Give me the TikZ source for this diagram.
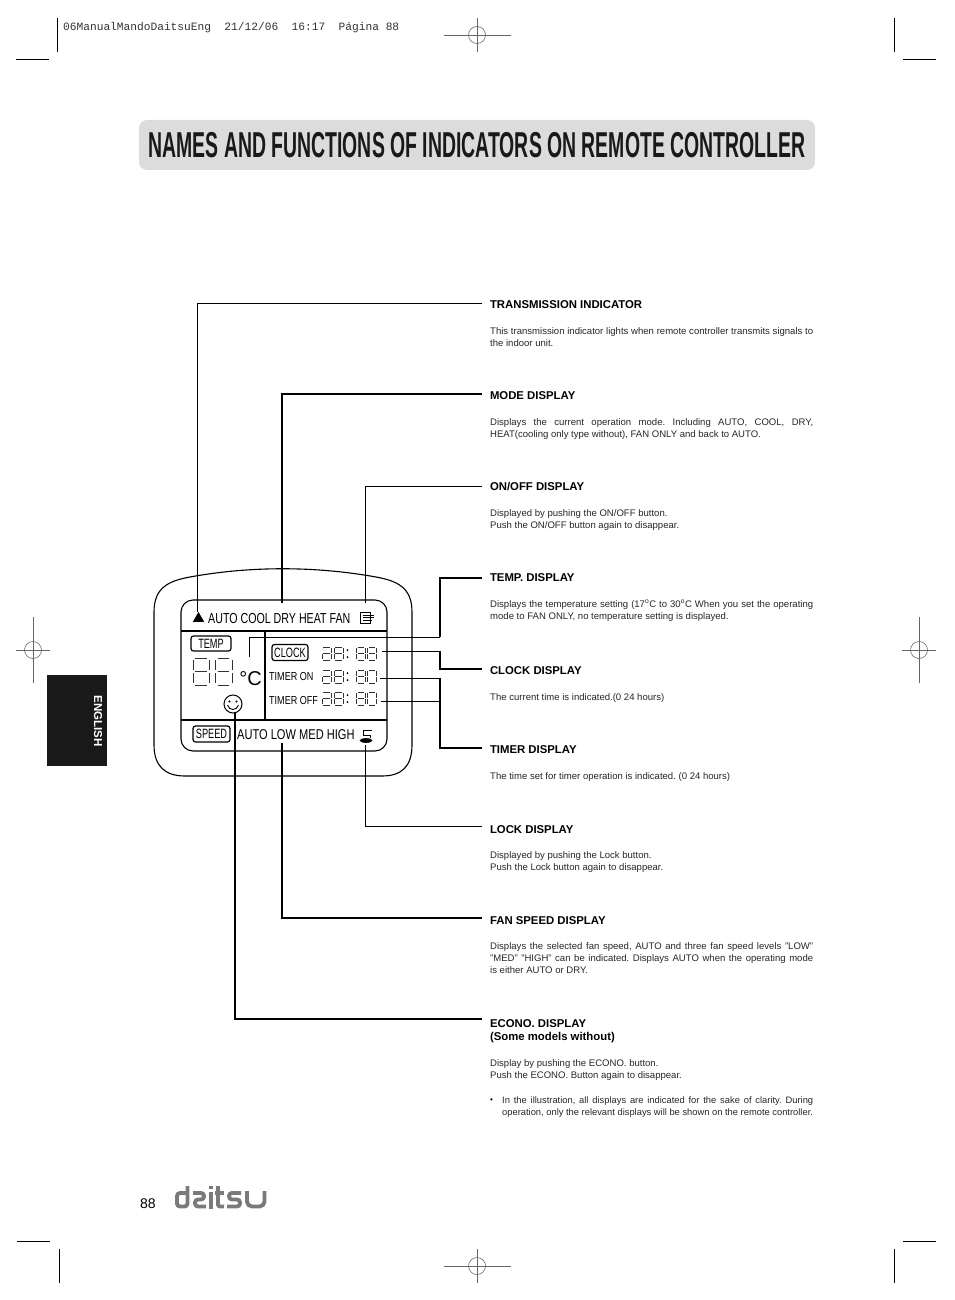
\documentclass[tikz,border=0pt]{standalone}
\usepackage{fontspec}
\usetikzlibrary{positioning,arrows.meta,calc,shapes.geometric}
\setmainfont{Liberation Sans}
\newfontfamily\narrowfont[FakeStretch=0.78]{Liberation Sans}
\newfontfamily\modefont[FakeStretch=0.735]{Liberation Sans}
\newfontfamily\boxfont[FakeStretch=0.68]{Liberation Sans}
\newfontfamily\titlefont[FakeStretch=0.54]{Liberation Sans}
\newfontfamily\markfont{Liberation Mono}
\definecolor{cTitle}{HTML}{DCDCDC}
\definecolor{cLogo}{HTML}{7A7A7A}
\def\eightsegs{.15/0/.85/0,.15/.5/.85/.5,.15/1/.85/1,0/.08/0/.44,1/.08/1/.44,0/.56/0/.92,1/.56/1/.92}
\def\zerosegs{.15/0/.85/0,.15/1/.85/1,0/.08/0/.44,1/.08/1/.44,0/.56/0/.92,1/.56/1/.92}
\def\threesegs{.15/0/.85/0,.15/.5/.85/.5,.15/1/.85/1,1/.08/1/.44,0/.56/0/.92,1/.56/1/.92}
\newcommand{\segdigit}[5]{%
  \begin{scope}[shift={(#1,#2)},xscale=#3,yscale=#4]
    \foreach \xa/\ya/\xb/\yb in #5 {\draw[segline] (\xa,\ya)--(\xb,\yb);}
  \end{scope}}
\begin{document}
\begin{tikzpicture}[x=1pt,y=-1pt,>=Stealth,
  headtxt/.style={anchor=west,inner xsep=0pt,outer xsep=8pt,inner ysep=0pt,text height=8pt,text depth=0pt,font=\fontsize{11.35}{13}\selectfont\bfseries},
  bodytxt/.style={anchor=north west,inner sep=0pt,text width=323pt,align=justify,font=\fontsize{9.55}{12}\selectfont\frenchspacing,text=black!85},
  lcdtxt/.style={inner sep=0pt,font=\fontsize{14.2}{16}\narrowfont},
  lcdsmall/.style={inner sep=0pt,font=\fontsize{11.6}{14}\narrowfont},
  lcdbox/.style={draw,rounded corners=2.5pt,line width=1.2pt,inner sep=0pt,minimum height=15pt,font=\fontsize{13.5}{14}\boxfont},
  thinline/.style={line width=0.8pt},
  thickline/.style={line width=1.9pt},
  midline/.style={line width=1.3pt},
  cropline/.style={line width=1pt},
  regline/.style={line width=0.6pt,black!60},
  segline/.style={line width=0.9pt,black!80},
  logoline/.style={line width=3.9pt,cLogo,rounded corners=3pt,line join=round}]
\useasboundingbox (0,0) rectangle (954,1300);
% crop marks
\foreach \x/\y in {57/18,894/18,59/1249,894/1249}{\draw[cropline] (\x,\y)--(\x,\y+34);}
\foreach \x/\y in {16/60,903/60,17/1241,903/1241}{\draw[cropline] (\x,\y)--(\x+33,\y);}
\foreach \x/\y/\w/\h in {477/35/33.5/17,33/650/17/33,919/650/17/33,477/1266/33.5/17}{
  \draw[regline] (\x,\y) circle (8.5);
  \draw[regline] (\x-\w,\y)--(\x+\w,\y) (\x,\y-\h)--(\x,\y+\h);}
\node[anchor=west,inner sep=0pt,font=\fontsize{11.2}{13}\markfont,text=black!80] (slug) at (63,28) {06ManualMandoDaitsuEng\ \ 21/12/06\ \ 16:17\ \ Página 88};
% title
\fill[cTitle,rounded corners=8pt] (139,120) rectangle (815,170);
\node[font=\fontsize{36}{38}\titlefont\bfseries,inner sep=0pt,text=black!90] (title) at (477,145) {NAMES AND FUNCTIONS OF INDICATORS ON REMOTE CONTROLLER};
% side tab
\fill[black!90] (47,675) rectangle (107,766);
\node[rotate=-90,text=white,inner sep=0pt,font=\fontsize{11.5}{12}\selectfont\bfseries] (tab) at (98,721) {ENGLISH};
% remote controller
\draw[line width=1.1pt] (154,612) .. controls (154,588) and (168,581) .. (190,577)
  .. controls (250,566) and (315,566) .. (376,577)
  .. controls (398,581) and (412,588) .. (412,612)
  -- (412,745) .. controls (412,766) and (402,776) .. (382,776)
  -- (185,776) .. controls (165,776) and (154,766) .. (154,745) -- cycle;
\draw[line width=1.1pt,rounded corners=12pt] (181,600) rectangle (387,751);
\draw[line width=1.1pt] (181,631)--(387,631) (181,720)--(387,720) (265,631)--(265,720);
\node[regular polygon,regular polygon sides=3,fill=black,inner sep=0pt,minimum size=13pt] (tx) at (198.5,618.5) {};
\node[lcdtxt,anchor=west,font=\fontsize{14.5}{16}\modefont] (modes) at (208,618.5) {AUTO COOL DRY HEAT FAN};
\node[draw,line width=1pt,minimum width=10pt,minimum height=11pt,inner sep=0pt] (onoff) at (365.5,617.5) {};
\draw[line width=1pt] (363,615)--(374,615) (363,617.5)--(374,617.5) (363,620)--(372,620);
\node[lcdbox,minimum width=40pt] (tempbox) at (211,643.5) {TEMP};
\segdigit{193}{658}{16}{27}{\eightsegs}
\segdigit{215}{658}{17}{27}{\eightsegs}
\node[inner sep=0pt,font=\fontsize{20}{22}\selectfont] (deg) at (250.5,679) {°C};
\node[circle,draw,line width=1pt,minimum size=18pt,inner sep=0pt] (econo) at (233,704) {};
\fill (229.5,701.5) circle (1.1) (236.5,701.5) circle (1.1);
\draw[line width=0.9pt] (227.5,705) .. controls (229,711) and (237,711) .. (238.5,705);
\node[lcdbox,minimum width=36pt,minimum height=16pt] (clockbox) at (290,652.5) {CLOCK};
\node[lcdsmall,anchor=west] (timeron) at (269,676) {TIMER ON};
\node[lcdsmall,anchor=west] (timeroff) at (269,700.5) {TIMER OFF};
\foreach \y in {647,670,692}{
  \segdigit{322}{\y}{9}{13}{\threesegs}
  \segdigit{334}{\y}{9}{13}{\eightsegs}
  \segdigit{356.5}{\y}{9}{13}{\eightsegs}
  \fill (347.5,\y+3) circle (1) (347.5,\y+10) circle (1);}
\segdigit{367.5}{647}{9}{13}{\eightsegs}
\segdigit{367.5}{670}{9}{13}{\zerosegs}
\segdigit{367.5}{692}{9}{13}{\zerosegs}
\node[lcdbox,minimum width=37pt,minimum height=16pt] (speedbox) at (211.5,734) {SPEED};
\node[lcdtxt,anchor=west] (speeds) at (237,735) {AUTO LOW MED HIGH};
\node[ellipse,draw,fill=black,line width=0.6pt,minimum width=12pt,minimum height=4pt,inner sep=0pt] (lock) at (366,740.5) {};
\draw[line width=0.9pt] (372,730.5)--(363,730.5)--(363,735)--(370,735)--(370,738);
% named points on the display
\coordinate (cTrans) at (197,612);
\coordinate (cMode) at (282,603);
\coordinate (cOnoff) at (365,603);
\coordinate (cTemp) at (249,657);
\coordinate (cClock) at (382,651);
\coordinate (cTimerA) at (380,678);
\coordinate (cTimerB) at (381,701);
\coordinate (cLock) at (365,745);
\coordinate (cFan) at (282,743);
\coordinate (cSmile) at (235,713);
% right column
\node[headtxt] (hTrans) at (482,304) {TRANSMISSION INDICATOR};
\node[bodytxt] (bTrans) at (490,327) {This transmission indicator lights when remote controller transmits signals to\linebreak the indoor unit.};
\node[headtxt] (hMode) at (482,395) {MODE DISPLAY};
\node[bodytxt] (bMode) at (490,418) {Displays the current operation mode. Including AUTO, COOL, DRY,\linebreak HEAT(cooling only type without), FAN ONLY and back to AUTO.};
\node[headtxt] (hOnoff) at (482,486) {ON/OFF DISPLAY};
\node[bodytxt] (bOnoff) at (490,509) {Displayed by pushing the ON/OFF button.\\ Push the ON/OFF button again to disappear.};
\node[headtxt] (hTemp) at (482,577) {TEMP. DISPLAY};
\node[bodytxt] (bTemp) at (490,600) {Displays the temperature setting (17\textsuperscript{o}C to 30\textsuperscript{o}C When you set the operating\linebreak mode to FAN ONLY, no temperature setting is displayed.};
\node[headtxt] (hClock) at (482,670) {CLOCK DISPLAY};
\node[bodytxt] (bClock) at (490,693) {The current time is indicated.(0 24 hours)};
\node[headtxt] (hTimer) at (482,749) {TIMER DISPLAY};
\node[bodytxt] (bTimer) at (490,772) {The time set for timer operation is indicated. (0 24 hours)};
\node[headtxt] (hLock) at (482,829) {LOCK DISPLAY};
\node[bodytxt] (bLock) at (490,851) {Displayed by pushing the Lock button.\\ Push the Lock button again to disappear.};
\node[headtxt] (hFan) at (482,920) {FAN SPEED DISPLAY};
\node[bodytxt] (bFan) at (490,942) {Displays the selected fan speed, AUTO and three fan speed levels "LOW"\linebreak "MED" "HIGH" can be indicated. Displays AUTO when the operating mode\linebreak is either AUTO or DRY.};
\node[headtxt] (hEcono) at (482,1023) {ECONO. DISPLAY};
\node[headtxt] (hEconoB) at (482,1036) {(Some models without)};
\node[bodytxt] (bEcono) at (490,1059) {Display by pushing the ECONO. button.\\ Push the ECONO. Button again to disappear.};
\node[anchor=base west,inner sep=0pt,font=\fontsize{8}{12}\selectfont] (bullet) at (490,1102) {•};
\node[bodytxt,text width=311pt,font=\fontsize{9.35}{12}\selectfont\frenchspacing] (bNote) at (502,1096.5) {In the illustration, all displays are indicated for the sake of clarity. During\linebreak operation, only the relevant displays will be shown on the remote controller.};
% connectors
\draw[thinline] (hTrans.west) ++(0,-1) -| (cTrans);
\draw[thickline] (hMode.west) ++(0,-1) -| (cMode);
\draw[thinline] (hOnoff.west) -| (cOnoff);
\coordinate (jTemp) at (440,637);
\coordinate (jClock) at (440,651);
\coordinate (jTimerA) at (440,678);
\coordinate (jTimerB) at (440,701);
\draw[midline] (hTemp.west) ++(0,1) -| (jTemp);
\draw[thinline] (jTemp) -- (249,637) -- (cTemp);
\draw[midline] (hClock.west) ++(0,-1) -| (jClock);
\draw[thinline] (jClock) -- (cClock);
\draw[midline] (hTimer.west) ++(0,-1) -| (jTimerA);
\draw[thinline] (jTimerA) -- (cTimerA);
\draw[thinline] (jTimerB) -- (cTimerB);
\draw[thinline] (hLock.west) ++(0,-3) -| (cLock);
\draw[thickline] (hFan.west) ++(0,-2) -| (cFan);
\draw[midline] (hEcono.west) ++(0,-4) -| (cSmile);
% logo
\node[anchor=west,inner sep=0pt,font=\fontsize{14}{16}\selectfont] (pagenum) at (140,1204) {88};
\draw[logoline] (187.5,1186)--(187.5,1206.5)--(177,1206.5)--(177,1193)--(187.5,1193);
\draw[logoline] (193,1193)--(204,1193)--(204,1199.5)--(195,1199.5)--(195,1206.5)--(206,1206.5);
\draw[logoline,rounded corners=0pt] (211,1192)--(211,1208.5) (211,1185.5)--(211,1189);
\draw[logoline,rounded corners=2pt] (218,1186)--(218,1206.5)--(224,1206.5);
\draw[logoline,rounded corners=0pt] (215,1193)--(224,1193);
\draw[logoline] (241,1193)--(229,1193)--(229,1199.5)--(240,1199.5)--(240,1206.5)--(227,1206.5);
\draw[logoline,rounded corners=5pt] (247,1191)--(247,1206.5)--(264.5,1206.5)--(264.5,1191);
\end{tikzpicture}
\end{document}
